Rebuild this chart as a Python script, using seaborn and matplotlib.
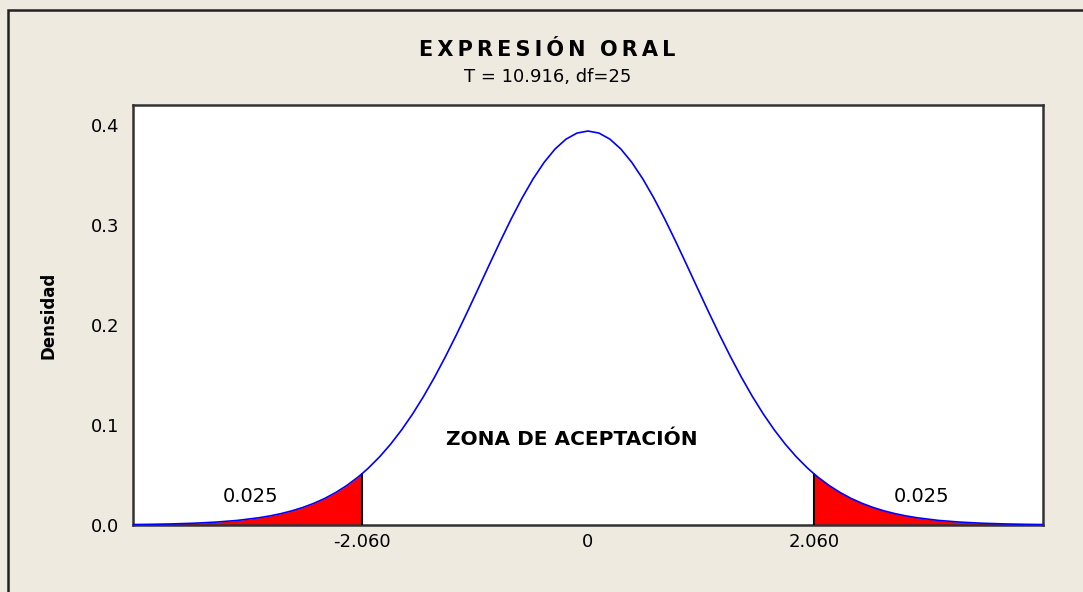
import matplotlib
matplotlib.use("Agg")
import matplotlib.pyplot as plt
import seaborn as sns
import pandas as pd
import numpy as np
from matplotlib.patches import Rectangle

# Student t density (df=25)
t_vals = [-4.15, -4.0, -3.8, -3.6, -3.4, -3.2, -3.0, -2.9, -2.8, -2.7, -2.6, -2.5,
          -2.4, -2.3, -2.2, -2.1, -2.06, -2.0, -1.9, -1.8, -1.7, -1.6, -1.5,
          -1.4, -1.3, -1.2, -1.1, -1.0, -0.9, -0.8, -0.7, -0.6, -0.5,
          -0.4, -0.3, -0.2, -0.1, 0.0, 0.1, 0.2, 0.3, 0.4,
          0.5, 0.6, 0.7, 0.8, 0.9, 1.0, 1.1, 1.2, 1.3, 1.4,
          1.5, 1.6, 1.7, 1.8, 1.9, 2.0, 2.06, 2.1, 2.2, 2.3, 2.4,
          2.5, 2.6, 2.7, 2.8, 2.9, 3.0, 3.2, 3.4, 3.6, 3.8, 4.0, 4.15]
density = [0.00043, 0.00063, 0.00105, 0.00173, 0.00282, 0.00454, 0.00724, 0.00909, 0.01137, 0.01416, 0.01755, 0.02166,
           0.02660, 0.03250, 0.03948, 0.04767, 0.05132, 0.05722, 0.06823, 0.08081, 0.09504, 0.11093, 0.12850,
           0.14768, 0.16833, 0.19024, 0.21312, 0.23662, 0.26029, 0.28364, 0.30612, 0.32716, 0.34619,
           0.36263, 0.37601, 0.38589, 0.39195, 0.39399, 0.39195, 0.38589, 0.37601, 0.36263,
           0.34619, 0.32716, 0.30612, 0.28364, 0.26029, 0.23662, 0.21312, 0.19024, 0.16833, 0.14768,
           0.12850, 0.11093, 0.09504, 0.08081, 0.06823, 0.05722, 0.05132, 0.04767, 0.03948, 0.03250, 0.02660,
           0.02166, 0.01755, 0.01416, 0.01137, 0.00909, 0.00724, 0.00454, 0.00282, 0.00173, 0.00105, 0.00063, 0.00043]

t_crit = 2.060
tail_area = "0.025"
tail_start = 4.0
x_ticks = [-2.060, 0, 2.060]
x_labels = ["-2.060", "0", "2.060"]
y_ticks = [0.0, 0.1, 0.2, 0.3, 0.4]

df = pd.DataFrame({"t": t_vals, "dens": density})

bg = "#EEEAE0"
sns.set_style("white")
plt.rcParams["font.family"] = ["DejaVu Sans"]
plt.rcParams["text.color"] = "black"
plt.rcParams["xtick.color"] = "black"
plt.rcParams["ytick.color"] = "black"
plt.rcParams["axes.labelcolor"] = "black"

fig = plt.figure(figsize=(10.83, 5.92), dpi=100, facecolor=bg)
ax = fig.add_axes([0.1228, 0.1132, 0.8402, 0.7094])
ax.set_facecolor("white")

# red rejection tails
t = df["t"].to_numpy()
d = df["dens"].to_numpy()
left = (t >= -tail_start) & (t <= -t_crit)
right = (t >= t_crit) & (t <= tail_start)
ax.fill_between(t, 0, d, where=left, color="#FF0000", lw=0, zorder=2)
ax.fill_between(t, 0, d, where=right, color="#FF0000", lw=0, zorder=2)

# critical value lines
for xc in (-t_crit, t_crit):
    yc = df.loc[np.isclose(df["t"], xc), "dens"].iloc[0]
    ax.plot([xc, xc], [0, yc], color="black", lw=1.5, zorder=3)

sns.lineplot(data=df, x="t", y="dens", color="#0000FF", lw=1.2, ax=ax, zorder=4)

ax.set_xlim(-4.15, 4.15)
ax.set_ylim(0, 0.42)
ax.set_xticks(x_ticks)
ax.set_xticklabels(x_labels)
ax.set_yticks(y_ticks)
ax.set_yticklabels([f"{v:.1f}" for v in y_ticks])
ax.tick_params(axis="x", length=0, labelsize=13, pad=6)
ax.tick_params(axis="y", length=6, width=1.5, direction="out", labelsize=13, pad=4, color="#333333")
ax.set_xlabel("")
ax.set_ylabel("Densidad", fontsize=12, fontweight="bold")
ax.yaxis.set_label_coords(-0.083, 0.5)
for s in ax.spines.values():
    s.set_color("#333333")
    s.set_linewidth(1.8)

ax.text(-0.15, 0.085, "ZONA DE ACEPTACIÓN", ha="center", va="center",
        fontsize=14.5, fontweight="bold")
ax.text(-3.08, 0.028, tail_area, ha="center", va="center", fontsize=14)
ax.text(3.04, 0.028, tail_area, ha="center", va="center", fontsize=14)

fig.text(0.505, 0.915, "E\u2009X\u2009P\u2009R\u2009E\u2009S\u2009I\u2009Ó\u2009N  O\u2009R\u2009A\u2009L",
         ha="center", va="center", fontsize=15, fontweight="bold")
fig.text(0.506, 0.870, "T = 10.916, df=25", ha="center", va="center", fontsize=13)

# outer frame (cropped on the right and bottom)
fig.add_artist(Rectangle((0.0074, -0.1), 1.2, 1.1 - 10 / 592, transform=fig.transFigure,
                         fill=False, lw=1.8, edgecolor="#222222"))

fig.savefig("out.png", dpi=100, facecolor=bg)
